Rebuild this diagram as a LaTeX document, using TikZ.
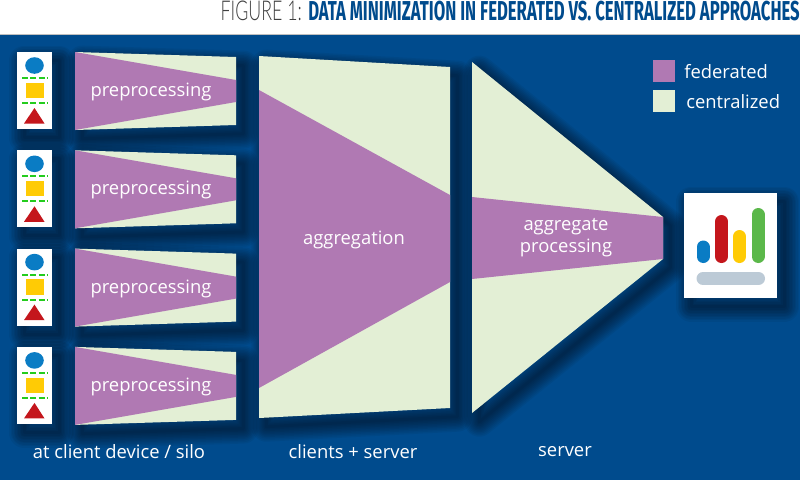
\documentclass[tikz,border=0pt]{standalone}
\usepackage{fontspec}
\setmainfont{Open Sans}
\newfontfamily\titlefont[FakeStretch=0.61]{Fira Sans Bold}
\newfontfamily\figurefont[FakeStretch=0.65]{Lato Light}
\definecolor{bgblue}{HTML}{004B8D}
\definecolor{fedpurple}{HTML}{B079B3}
\definecolor{cengreen}{HTML}{E3EFD5}
\definecolor{iconblue}{HTML}{0A7CC4}
\definecolor{iconyellow}{HTML}{FFCB05}
\definecolor{iconred}{HTML}{C4161C}
\definecolor{icongreen}{HTML}{5BB84A}
\definecolor{icongrey}{HTML}{BCCAD6}
\newcommand{\softshadow}[1]{%
	\foreach \w in {30,27,...,3}{
		\path[draw=black, opacity=0.05, line join=round, line width=\w*0.75pt]
			[xshift=5.5pt, yshift=-6.5pt] #1;
	}
}
\tikzset{
	lbl/.style={text=white, font=\fontsize{13.8}{16}\selectfont, align=center, inner sep=0pt},
	cardline/.style={color=black!15!green!60!icongreen, line width=1.5pt, dash pattern=on 4.6pt off 1.6pt},
	statbar/.style={line width=9.75pt, line cap=round},
}
\begin{document}
\begin{tikzpicture}[x=0.75pt, y=-0.75pt]
	\useasboundingbox (0,0) rectangle (800,480);
	\fill[white] (0,0) rectangle (800,480);
	\fill[bgblue] (0,35) rectangle (800,480);
	\draw[color=black!25, line width=0.6pt] (0,34.5) -- (800,34.5);

	\node[anchor=east, inner sep=0pt] (title) at (800,10.5)
		{\fontsize{20.5}{22}\selectfont\figurefont\color{black!75}FIGURE 1: \titlefont\color{bgblue}DATA MINIMIZATION IN FEDERATED VS. CENTRALIZED APPROACHES};

	% shadows first
	\foreach \i in {0,1,2,3}{
		\begin{scope}[yshift={-\i*98.3*0.75pt}]
			\softshadow{(17,52) -- (52,52) -- (52,129) -- (17,129) -- cycle}
			\softshadow{(75,52) -- (236,57) -- (236,125) -- (75,130) -- cycle}
		\end{scope}
	}
	\softshadow{(259,56) -- (450,67) -- (450,408) -- (259,418) -- cycle}
	\softshadow{(472,62) -- (663,217) -- (663,259) -- (472,413) -- cycle}
	\softshadow{(684,193) -- (777,193) -- (777,298) -- (684,298) -- cycle}

	% clients
	\foreach \i in {0,1,2,3}{
		\begin{scope}[yshift={-\i*98.3*0.75pt}]
			\fill[white] (17,52) rectangle (52,129);
			\fill[iconblue] (34.5,65.5) ellipse (9.3 and 8.3);
			\draw[cardline] (22,78) -- (47,78);
			\fill[iconyellow] (26,82.7) rectangle (43.5,98);
			\draw[cardline] (22,103) -- (47,103);
			\fill[iconred] (34.5,108) -- (44.5,123.5) -- (24,123.5) -- cycle;

			\fill[cengreen] (75,52) -- (236,57) -- (236,125) -- (75,130) -- cycle;
			\fill[fedpurple] (75,52) -- (236,80) -- (236,102) -- (75,130) -- cycle;
			\node[lbl] (prep\i) at (151,92) {preprocessing};
		\end{scope}
	}

	% aggregation
	\fill[cengreen] (259,56) -- (450,67) -- (450,408) -- (259,418) -- cycle;
	\fill[fedpurple] (259,90) -- (450,195) -- (450,282) -- (259,388) -- cycle;
	\node[lbl] (aggr) at (354,239.5) {aggregation};

	% server
	\fill[cengreen] (472,62) -- (663,217) -- (663,259) -- (472,413) -- cycle;
	\fill[fedpurple] (472,197) -- (663,217) -- (663,259) -- (472,279) -- cycle;
	\node[lbl] (proc) at (566,237.5) {aggregate\\[0.5pt]processing};

	% result
	\fill[white] (684,193) rectangle (777,298);
	\draw[statbar, iconblue] (703,247) -- (703,256.5);
	\draw[statbar, iconred] (721.5,221.5) -- (721.5,256.5);
	\draw[statbar, iconyellow] (739.5,236.5) -- (739.5,256.5);
	\draw[statbar, icongreen] (758,214.5) -- (758,256.5);
	\draw[statbar, icongrey] (703,278.5) -- (758.5,278.5);

	% legend
	\fill[fedpurple] (653,60) rectangle (675,82);
	\fill[cengreen] (653,90) rectangle (675,112);
	\node[lbl, anchor=west] (fed) at (684,71.5) {federated};
	\node[lbl, anchor=west] (cen) at (686,101.5) {centralized};

	% columns
	\node[lbl] (col1) at (119,452) {at client device / silo};
	\node[lbl] (col2) at (353,452) {clients + server};
	\node[lbl] (col3) at (565,452) {server};
\end{tikzpicture}
\end{document}
